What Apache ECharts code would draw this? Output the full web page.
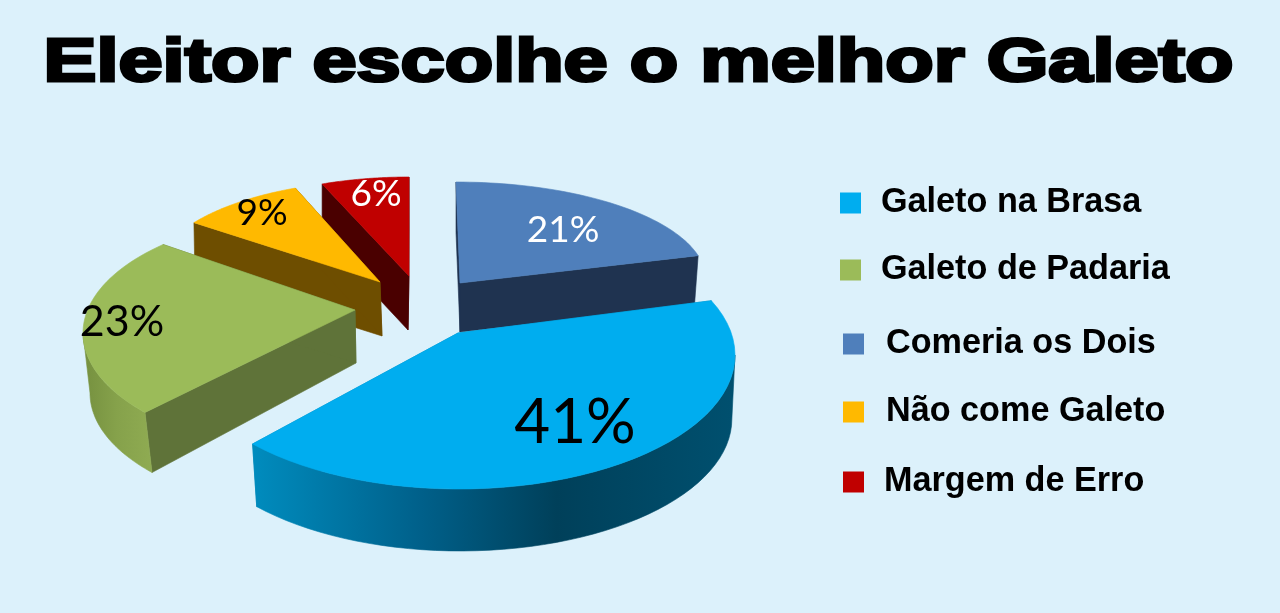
<!DOCTYPE html>
<html><head><meta charset="utf-8">
<style>html,body{margin:0;padding:0;background:#DCF1FB}#c{width:1280px;height:613px}</style>
<script src="https://cdn.jsdelivr.net/npm/echarts@6/dist/echarts.min.js"></script>
</head><body><div id="c"></div>
<script>
const titleText = 'Eleitor escolhe o melhor Galeto';
const categories = ['Galeto na Brasa','Galeto de Padaria','Comeria os Dois','Não come Galeto','Margem de Erro'];
const shares = [41,23,21,9,6];
// order of the slices clockwise from twelve o'clock
const clockwiseOrder = [2,0,1,3,4];
// order in which the slices are painted (back to front)
const paintOrder = [4,3,2,1,0];

const topColors  = ['#00ADEF','#9BBB59','#4F7FBB','#FFB900','#C00000'];
const cutColors  = ['#0088B8','#5F7339','#1F3350','#6E4E00','#4A0000'];
const labelColors= ['#000','#000','#fff','#000','#fff'];
const labelSizes = [62,43,37,37,37];
const labelPos   = [[575,423],[122,322],[563,230],[262,213],[376,194]];

// projection of every exploded slice: apex, ellipse, wall depth, perspective warp of the sweep (degrees)
const apex     = [[458,333],[355,310],[460,283],[380,282],[409,276]];
const apexDrop = [[0,62],[1,53],[0,49],[2,54],[-1,54]];
const centre   = [[459,355],[330,333],[456,280],[380,282],[409,276]];
const radii    = [[276,134],[247,120],[250,98],[230,101],[236,99]];
const wall     = [[1,64,0.985],[7,60,1],[0,49,0.985],[1,54,1],[0,54,1]];
const warp     = [[-9.5,5.2],[5.3,11.5],[0,0],[0,0],[0,0]];

const legendPos = [[840,186,20],[840,253,20],[843,327,22],[843,395,22],[843,465,20]];

const total = shares.reduce((a,b)=>a+b,0);
const startShare = {};
let run = 0;
clockwiseOrder.forEach(i=>{ startShare[i]=run; run+=shares[i]; });

function arcPoints(a0, a1, i, scale, dx, dy){
  const pts = [];
  const n = 48;
  for(let k=0;k<=n;k++){
    const t=(a0+(a1-a0)*k/n)*Math.PI/180;
    pts.push([centre[i][0]+dx+scale*radii[i][0]*Math.sin(t), centre[i][1]+dy-scale*radii[i][1]*Math.cos(t)]);
  }
  return pts;
}
function outerFill(i){
  if(i===0) return new echarts.graphic.LinearGradient(0,0,1,0,[
    {offset:0,color:'#008CBE'},{offset:.35,color:'#00608A'},{offset:.63,color:'#00405A'},{offset:1,color:'#00506F'}]);
  if(i===1) return new echarts.graphic.LinearGradient(0,0,1,0,[
    {offset:0,color:'#75903F'},{offset:.5,color:'#86A24B'},{offset:1,color:'#8FAB52'}]);
  return cutColors[i];
}
function makeRender(i){
  return function(params, api){
    const value = api.value(0);
    const a0 = startShare[i]/total*360 + warp[i][0];
    const a1 = (startShare[i]+shares[i])/total*360 + warp[i][1];
    const [dx,dy,sc] = wall[i];
    const top = arcPoints(a0,a1,i,1,0,0);
    const bottom = arcPoints(a0,a1,i,sc,dx,dy);
    const ax = apex[i][0], ay = apex[i][1];
    const bx = ax+apexDrop[i][0], by = ay+apexDrop[i][1];
    const first = top[0], last = top[top.length-1];
    const bFirst = bottom[0], bLast = bottom[bottom.length-1];
    const poly = (pts,fill)=>({type:'polygon',shape:{points:pts},style:{fill:fill,stroke:fill,lineWidth:.6}});
    const children = [
      poly([[ax,ay],first,bFirst,[bx,by]],cutColors[i]),
      poly([[ax,ay],last,bLast,[bx,by]],cutColors[i])
    ];
    // the rim only shows on the near half of the ellipse
    const r0 = Math.max(a0,90), r1 = Math.min(a1,270);
    if(r1>r0){
      const rimTop = arcPoints(r0,r1,i,1,0,0), rimBottom = arcPoints(r0,r1,i,sc,dx,dy);
      children.push(poly(rimTop.concat(rimBottom.slice().reverse()),outerFill(i)));
    }
    children.push(poly([[ax,ay]].concat(top),topColors[i]));
    children.push({type:'text',style:{text:value+'%',x:labelPos[i][0],y:labelPos[i][1],align:'center',verticalAlign:'middle',
        fill:labelColors[i],fontFamily:'Lato',fontSize:labelSizes[i]}});
    return {type:'group',children};
  };
}
const chart = echarts.init(document.getElementById('c'));
chart.setOption({
  animation:false,
  backgroundColor:'#DCF1FB',
  graphic:[{type:'text',x:638.5,y:64.5,scaleX:1.3,silent:true,
    style:{text:titleText,align:'center',verticalAlign:'middle',fontFamily:'Liberation Sans',fontWeight:'bold',fontSize:61,
      fill:'#000',stroke:'#000',lineWidth:3}}],
  legend:categories.map((c,i)=>({
    data:[c],left:legendPos[i][0],top:legendPos[i][1],padding:0,icon:'rect',itemWidth:21,itemHeight:21,selectedMode:false,
    textStyle:{fontFamily:'Liberation Sans',fontWeight:'bold',fontSize:34.2,color:'#000',lineHeight:21,
      padding:[0,0,0,legendPos[i][2]-5]}
  })),
  tooltip:{show:false},
  series:paintOrder.map((i,k)=>({
    type:'custom',name:categories[i],coordinateSystem:'none',z:2+k,clip:false,silent:true,
    itemStyle:{color:topColors[i]},
    data:[[shares[i]]],
    renderItem:makeRender(i)
  }))
});
</script></body></html>
